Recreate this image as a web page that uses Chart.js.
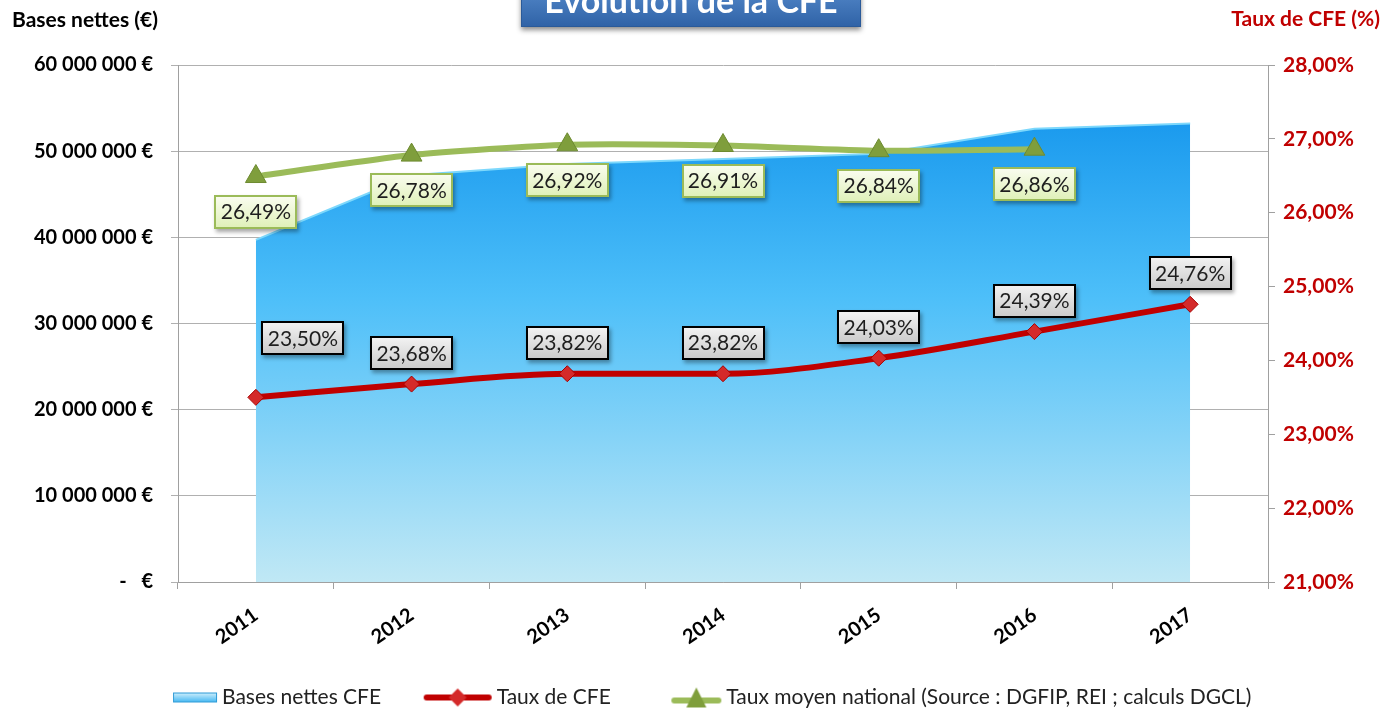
<!DOCTYPE html>
<html>
<head>
<meta charset="utf-8">
<script src="https://cdn.jsdelivr.net/npm/chart.js@4.4.0/dist/chart.umd.min.js"></script>
<style>
  html, body { margin: 0; padding: 0; background: #fff; }
  #wrap { width: 1388px; height: 714px; position: relative; }
</style>
</head>
<body>
<div id="wrap"><canvas id="cfe" width="1388" height="714"></canvas></div>
<script>
// Categories
var years = ["2011", "2012", "2013", "2014", "2015", "2016", "2017"];

// Series values
var basesNettes = [39700000, 47200000, 48500000, 49100000, 49700000, 52600000, 53200000];
var tauxCFE = [23.50, 23.68, 23.82, 23.82, 24.03, 24.39, 24.76];
var tauxNational = [26.49, 26.78, 26.92, 26.91, 26.84, 26.86, null];

// Tick values of both value axes
var baseTicks = [0, 10000000, 20000000, 30000000, 40000000, 50000000, 60000000];
var tauxTicks = [21, 22, 23, 24, 25, 26, 27, 28];

// Labels
var seriesNames = ["Bases nettes CFE", "Taux de CFE", "Taux moyen national (Source : DGFIP, REI ; calculs DGCL)"];
var chartTitle = "Évolution de la CFE";
var leftTitle = "Bases nettes (€)";
var rightTitle = "Taux de CFE (%)";

var FONT = "Lato, 'Open Sans', sans-serif";
var LEGEND_SIZE = 21;
var LEGEND_BOX = 75;

function fmtEuro(v) {
  if (v === 0) return "-   €";
  return String(v).replace(/\B(?=(\d{3})+(?!\d))/g, " ") + " €";
}
function fmtPct(v) {
  return v.toFixed(2).replace(".", ",") + "%";
}

// Small canvases used as legend markers.
// The marker is placed so that its right end sits just before the legend text.
function makeMarker(mw, h, draw) {
  var r = LEGEND_BOX / 2 + LEGEND_SIZE / 2 - 4;
  var half = Math.max(r, mw - r);
  var c = document.createElement("canvas");
  c.width = Math.ceil(half * 2);
  c.height = h;
  var ctx = c.getContext("2d");
  ctx.translate(half + r - mw, 0);
  draw(ctx, mw, h);
  return c;
}
var markers = [
  makeMarker(46, 14, function (ctx) {
    var g = ctx.createLinearGradient(0, 2, 0, 12);
    g.addColorStop(0, "#d4f1fd");
    g.addColorStop(1, "#3fb6f2");
    ctx.fillStyle = g;
    ctx.fillRect(1, 2, 44, 10);
    ctx.strokeStyle = "#2e9ad6";
    ctx.lineWidth = 1;
    ctx.strokeRect(1.5, 2.5, 43, 9);
  }),
  makeMarker(70, 22, function (ctx) {
    ctx.strokeStyle = "#c00000";
    ctx.lineWidth = 6;
    ctx.lineCap = "round";
    ctx.beginPath();
    ctx.moveTo(4, 11);
    ctx.lineTo(66, 11);
    ctx.stroke();
    ctx.fillStyle = "#d42a2a";
    ctx.beginPath();
    ctx.moveTo(35, 2);
    ctx.lineTo(44, 11);
    ctx.lineTo(35, 20);
    ctx.lineTo(26, 11);
    ctx.closePath();
    ctx.fill();
  }),
  makeMarker(52, 24, function (ctx) {
    ctx.strokeStyle = "#9bbb59";
    ctx.lineWidth = 6;
    ctx.lineCap = "round";
    ctx.beginPath();
    ctx.moveTo(4, 15);
    ctx.lineTo(48, 15);
    ctx.stroke();
    ctx.fillStyle = "#7f9e3c";
    ctx.beginPath();
    ctx.moveTo(26, 2);
    ctx.lineTo(36, 22);
    ctx.lineTo(16, 22);
    ctx.closePath();
    ctx.fill();
  })
];

// Value boxes per dataset index
var boxStyles = {
  1: {
    offsets: [[47, -59], [0, -31], [0, -31], [0, -31], [0, -31], [0, -31], [0, -31]],
    fillTop: "#f4f4f4", fillBottom: "#c9c9c9", border: "#000", borderWidth: 2
  },
  2: {
    offsets: [[0, 35], [0, 35], [0, 35], [0, 35], [0, 35], [0, 35], [0, 35]],
    fillTop: "#fbfdf2", fillBottom: "#def0b6", border: "#9bbb59", borderWidth: 2
  }
};

function drawBox(ctx, cx, cy, text, st) {
  var w = 83, h = 34;
  var x = Math.round(cx - w / 2), y = Math.round(cy - h / 2);
  ctx.save();
  var g = ctx.createLinearGradient(0, y, 0, y + h);
  g.addColorStop(0, st.fillTop);
  g.addColorStop(1, st.fillBottom);
  ctx.shadowColor = "rgba(0,0,0,0.35)";
  ctx.shadowBlur = 4;
  ctx.shadowOffsetX = 2;
  ctx.shadowOffsetY = 3;
  ctx.fillStyle = g;
  ctx.fillRect(x, y, w, h);
  ctx.shadowColor = "transparent";
  ctx.lineWidth = st.borderWidth;
  ctx.strokeStyle = st.border;
  ctx.strokeRect(x + 1, y + 1, w - 2, h - 2);
  ctx.fillStyle = "#1e1e1e";
  ctx.font = "21px " + FONT;
  ctx.textAlign = "center";
  ctx.textBaseline = "middle";
  ctx.fillText(text, cx, cy + 1);
  ctx.restore();
}

var valueBoxes = {
  id: "valueBoxes",
  afterDatasetsDraw: function (chart) {
    var ctx = chart.ctx;
    chart.data.datasets.forEach(function (ds, i) {
      var st = boxStyles[i];
      if (!st) return;
      chart.getDatasetMeta(i).data.forEach(function (pt, j) {
        var v = ds.data[j];
        if (v === null || v === undefined) return;
        drawBox(ctx, pt.x + st.offsets[j][0], pt.y + st.offsets[j][1], fmtPct(v), st);
      });
    });
  }
};

// Axis titles and the clipped title box at the top
var decorations = {
  id: "decorations",
  beforeDraw: function (chart) {
    var ctx = chart.ctx;
    ctx.save();
    ctx.fillStyle = "#fff";
    ctx.fillRect(0, 0, chart.width, chart.height);
    ctx.restore();
  },
  afterDraw: function (chart) {
    var ctx = chart.ctx;
    ctx.save();
    ctx.font = "bold 21px " + FONT;
    ctx.textBaseline = "middle";
    ctx.fillStyle = "#000";
    ctx.textAlign = "left";
    ctx.fillText(leftTitle, 12, 20);
    ctx.fillStyle = "#c00000";
    ctx.textAlign = "right";
    ctx.fillText(rightTitle, 1380, 19);

    // title box
    var g = ctx.createLinearGradient(0, -20, 0, 27);
    g.addColorStop(0, "#5a8fd0");
    g.addColorStop(1, "#2f62a6");
    ctx.shadowColor = "rgba(0,0,0,0.45)";
    ctx.shadowBlur = 5;
    ctx.shadowOffsetY = 3;
    ctx.fillStyle = g;
    ctx.fillRect(521, -20, 340, 47);
    ctx.shadowColor = "transparent";
    ctx.strokeStyle = "#2a5a99";
    ctx.lineWidth = 1;
    ctx.strokeRect(521.5, -20, 339, 46.5);
    ctx.fillStyle = "#fff";
    ctx.font = "bold 34px " + FONT;
    ctx.textAlign = "center";
    ctx.textBaseline = "alphabetic";
    ctx.fillText(chartTitle, 691, 13);
    ctx.restore();
  }
};

function areaGradient(context) {
  var area = context.chart.chartArea;
  if (!area) return "#5cc6fb";
  var g = context.chart.ctx.createLinearGradient(0, area.top, 0, area.bottom);
  g.addColorStop(0, "#0a8eea");
  g.addColorStop(0.45, "#4dbff9");
  g.addColorStop(1, "#c0e8f5");
  return g;
}

function build() {
  new Chart(document.getElementById("cfe"), {
    type: "line",
    data: {
      labels: years,
      datasets: [
        {
          label: seriesNames[0],
          data: basesNettes,
          yAxisID: "y",
          fill: "origin",
          backgroundColor: areaGradient,
          borderColor: "#7dd8fc",
          borderWidth: 2,
          pointRadius: 0,
          tension: 0,
          order: 3
        },
        {
          label: seriesNames[1],
          data: tauxCFE,
          yAxisID: "y1",
          borderColor: "#c00000",
          borderWidth: 6,
          pointStyle: "rectRot",
          pointRadius: 8,
          pointBackgroundColor: "#d42a2a",
          pointBorderColor: "#a80000",
          pointBorderWidth: 1,
          cubicInterpolationMode: "monotone",
          order: 1
        },
        {
          label: seriesNames[2],
          data: tauxNational,
          yAxisID: "y1",
          borderColor: "#9bbb59",
          borderWidth: 6,
          pointStyle: "triangle",
          pointRadius: 12,
          pointBackgroundColor: "#7f9e3c",
          pointBorderColor: "#6d8a30",
          pointBorderWidth: 1,
          tension: 0.2,
          order: 2
        }
      ]
    },
    options: {
      responsive: false,
      animation: false,
      devicePixelRatio: 1,
      layout: { padding: { top: 65, left: 0, right: 0, bottom: -4 } },
      scales: {
        x: {
          type: "category",
          offset: true,
          grid: { display: true, drawOnChartArea: false, drawTicks: true, tickLength: 7, color: "#a0a0a0", offset: true },
          border: { display: true, color: "#a0a0a0" },
          ticks: {
            font: { family: FONT, size: 20, weight: "bold" },
            color: "#000",
            minRotation: 35,
            maxRotation: 35,
            autoSkip: false,
            padding: 14
          },
          afterFit: function (s) { s.height = 75; }
        },
        y: {
          position: "left",
          min: baseTicks[0],
          max: baseTicks[baseTicks.length - 1],
          afterBuildTicks: function (s) { s.ticks = baseTicks.map(function (v) { return { value: v }; }); },
          grid: { color: "#b0b0b0", tickLength: 7, drawTicks: true },
          border: { display: true, color: "#a0a0a0" },
          ticks: {
            font: { family: FONT, size: 20, weight: "bold" },
            color: "#000",
            padding: 18,
            callback: function (v) { return fmtEuro(v); }
          },
          afterFit: function (s) { s.width = 178; }
        },
        y1: {
          position: "right",
          min: tauxTicks[0],
          max: tauxTicks[tauxTicks.length - 1],
          afterBuildTicks: function (s) { s.ticks = tauxTicks.map(function (v) { return { value: v }; }); },
          grid: { drawOnChartArea: false, tickLength: 7, drawTicks: true, color: "#a0a0a0" },
          border: { display: true, color: "#a0a0a0" },
          ticks: {
            font: { family: FONT, size: 21, weight: "bold" },
            color: "#c00000",
            padding: 8,
            callback: function (v) { return fmtPct(v); }
          },
          afterFit: function (s) { s.width = 120; }
        }
      },
      plugins: {
        tooltip: { enabled: false },
        legend: {
          position: "bottom",
          labels: {
            usePointStyle: true,
            pointStyleWidth: LEGEND_BOX,
            padding: 30,
            color: "#222",
            font: { family: FONT, size: LEGEND_SIZE },
            sort: function (a, b) { return a.datasetIndex - b.datasetIndex; },
            generateLabels: function (chart) {
              var items = Chart.defaults.plugins.legend.labels.generateLabels(chart);
              items.forEach(function (it) { it.pointStyle = markers[it.datasetIndex]; });
              return items;
            }
          }
        }
      }
    },
    plugins: [decorations, valueBoxes]
  });
}

if (document.fonts && document.fonts.load) {
  Promise.all([
    document.fonts.load("bold 17px Lato"),
    document.fonts.load("19px Lato")
  ]).then(build, build);
} else {
  build();
}
</script>
</body>
</html>
